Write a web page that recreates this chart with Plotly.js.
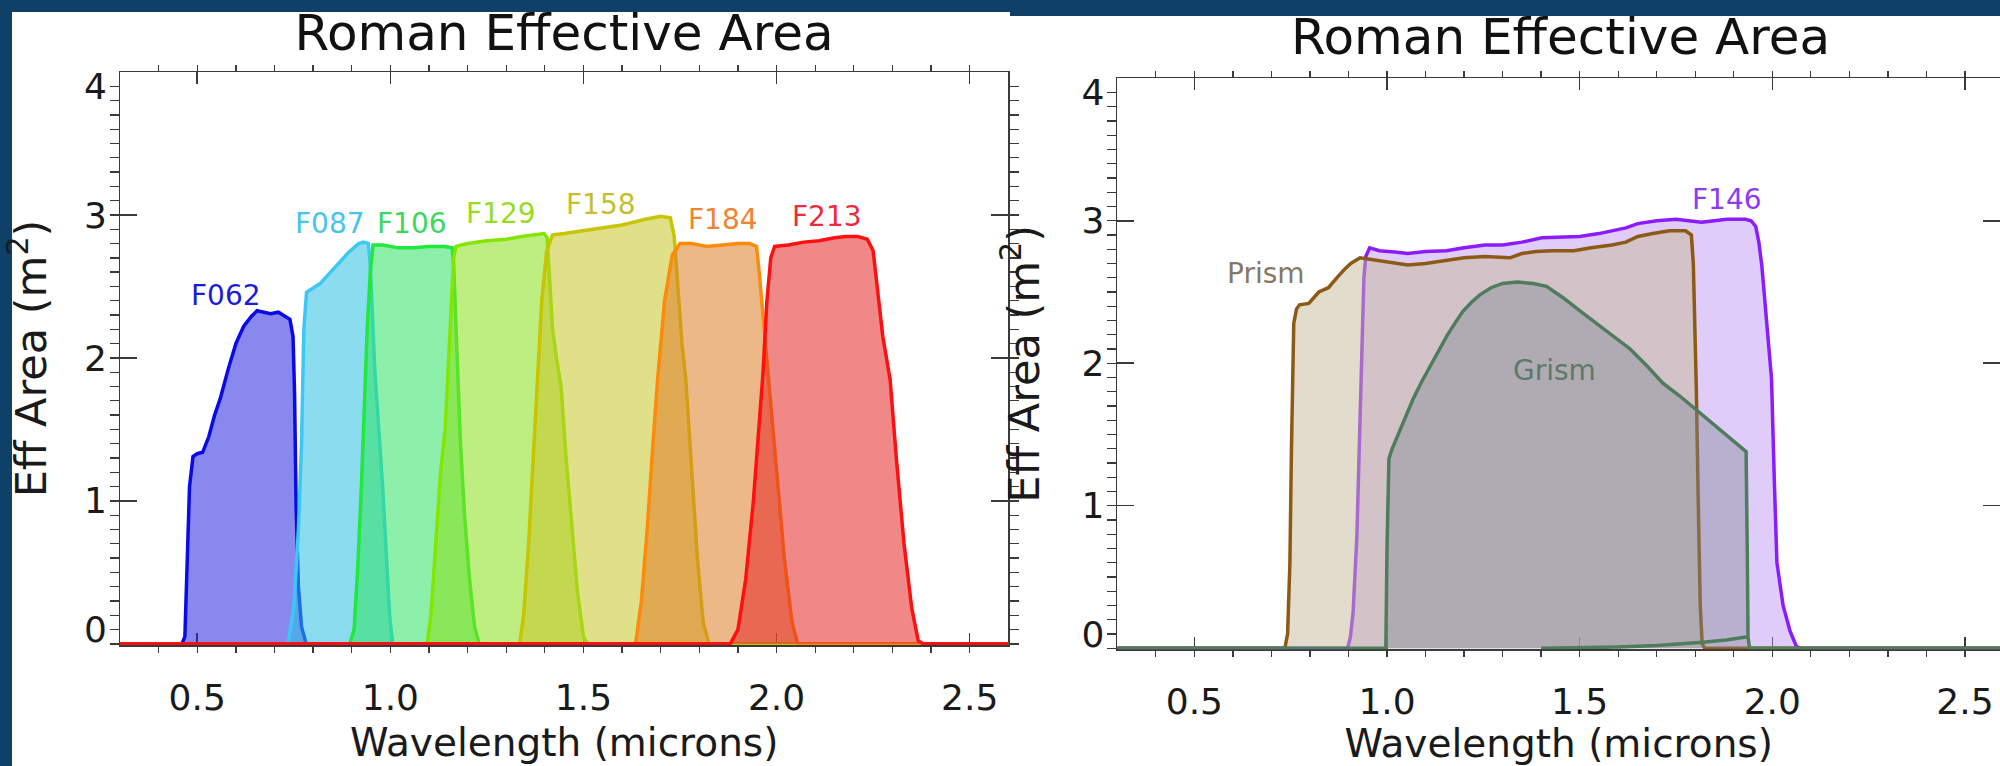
<!DOCTYPE html>
<html>
<head>
<meta charset="utf-8">
<script src="https://cdn.plot.ly/plotly-3.0.1.min.js"></script>
<style>
html,body{margin:0;padding:0;background:#0f4068;}
#chart{width:2000px;height:766px;}
</style>
</head>
<body>
<div id="chart"></div>
<script>
// ---------- Left panel: imaging filters (wavelength in microns, effective area in m^2) ----------
const F062_x = [0.30, 0.460, 0.468, 0.474, 0.480, 0.489, 0.500, 0.514, 0.530, 0.545, 0.560, 0.580, 0.600, 0.620, 0.640, 0.655, 0.670, 0.690, 0.710, 0.730, 0.740, 0.748, 0.752, 0.756, 0.762, 0.770, 0.782, 2.60];
const F062_y = [0, 0, 0.05, 0.60, 1.10, 1.31, 1.33, 1.34, 1.45, 1.60, 1.72, 1.92, 2.10, 2.22, 2.29, 2.33, 2.32, 2.31, 2.32, 2.29, 2.27, 2.15, 1.75, 0.95, 0.40, 0.12, 0, 0];

const F087_x = [0.30, 0.735, 0.750, 0.762, 0.770, 0.776, 0.783, 0.800, 0.818, 0.835, 0.853, 0.866, 0.879, 0.892, 0.905, 0.918, 0.930, 0.943, 0.948, 0.954, 0.960, 0.970, 0.980, 0.990, 0.998, 1.006, 2.60];
const F087_y = [0, 0, 0.25, 0.80, 1.40, 2.20, 2.46, 2.49, 2.52, 2.57, 2.62, 2.66, 2.70, 2.74, 2.77, 2.80, 2.81, 2.80, 2.65, 2.30, 1.90, 1.50, 1.10, 0.60, 0.20, 0, 0];

const F106_x = [0.30, 0.895, 0.906, 0.915, 0.925, 0.932, 0.940, 0.948, 0.955, 0.980, 1.020, 1.060, 1.100, 1.140, 1.160, 1.164, 1.168, 1.174, 1.181, 1.192, 1.205, 1.218, 1.230, 2.60];
const F106_y = [0, 0, 0.10, 0.50, 1.10, 1.60, 2.20, 2.60, 2.79, 2.79, 2.77, 2.77, 2.78, 2.78, 2.77, 2.65, 2.35, 1.90, 1.43, 0.90, 0.45, 0.12, 0, 0];

const F129_x = [0.30, 1.095, 1.105, 1.118, 1.130, 1.142, 1.150, 1.158, 1.164, 1.170, 1.200, 1.250, 1.300, 1.340, 1.370, 1.398, 1.406, 1.412, 1.420, 1.430, 1.442, 1.455, 1.470, 1.485, 1.500, 1.510, 2.60];
const F129_y = [0, 0, 0.20, 0.70, 1.20, 1.50, 1.90, 2.40, 2.70, 2.78, 2.80, 2.82, 2.83, 2.85, 2.86, 2.87, 2.84, 2.60, 2.20, 2.00, 1.80, 1.30, 0.80, 0.35, 0.05, 0, 0];

const F158_x = [0.30, 1.335, 1.345, 1.358, 1.370, 1.380, 1.392, 1.405, 1.420, 1.450, 1.500, 1.550, 1.600, 1.630, 1.660, 1.700, 1.725, 1.735, 1.745, 1.755, 1.765, 1.780, 1.795, 1.810, 1.825, 2.60];
const F158_y = [0, 0, 0.20, 0.70, 1.30, 1.85, 2.40, 2.75, 2.86, 2.87, 2.89, 2.91, 2.93, 2.95, 2.97, 2.99, 2.98, 2.85, 2.50, 2.10, 1.85, 1.20, 0.60, 0.15, 0, 0];

const F184_x = [0.30, 1.635, 1.650, 1.665, 1.680, 1.692, 1.710, 1.730, 1.750, 1.780, 1.820, 1.860, 1.900, 1.930, 1.948, 1.955, 1.965, 1.980, 2.000, 2.020, 2.040, 2.055, 2.60];
const F184_y = [0, 0, 0.30, 0.80, 1.40, 1.85, 2.40, 2.72, 2.80, 2.80, 2.78, 2.79, 2.80, 2.80, 2.78, 2.60, 2.30, 1.85, 1.20, 0.60, 0.15, 0, 0];

const F213_x = [0.30, 1.880, 1.900, 1.920, 1.940, 1.955, 1.965, 1.975, 1.985, 1.995, 2.030, 2.070, 2.110, 2.150, 2.180, 2.210, 2.235, 2.250, 2.260, 2.275, 2.294, 2.310, 2.330, 2.350, 2.367, 2.380, 2.60];
const F213_y = [0, 0, 0.10, 0.45, 1.00, 1.50, 1.90, 2.40, 2.70, 2.78, 2.79, 2.81, 2.82, 2.84, 2.85, 2.85, 2.83, 2.75, 2.50, 2.15, 1.85, 1.30, 0.70, 0.25, 0.02, 0, 0];

// ---------- Right panel: F146, Prism, Grism ----------
const F146_x = [0.30, 0.898, 0.905, 0.912, 0.922, 0.930, 0.936, 0.940, 0.945, 0.955, 0.980, 1.020, 1.054, 1.100, 1.154, 1.200, 1.254, 1.300, 1.350, 1.402, 1.450, 1.500, 1.550, 1.584, 1.620, 1.651, 1.700, 1.750, 1.790, 1.816, 1.850, 1.882, 1.930, 1.945, 1.957, 1.965, 1.973, 1.985, 1.998, 2.005, 2.012, 2.028, 2.046, 2.063, 2.075, 2.60];
const F146_y = [0, 0, 0.08, 0.25, 0.80, 1.50, 2.20, 2.60, 2.75, 2.81, 2.79, 2.78, 2.77, 2.785, 2.79, 2.81, 2.83, 2.83, 2.85, 2.88, 2.885, 2.89, 2.91, 2.93, 2.95, 2.98, 3.00, 3.01, 3.00, 2.99, 3.00, 3.01, 3.01, 3.00, 2.96, 2.85, 2.68, 2.30, 1.89, 1.20, 0.60, 0.30, 0.12, 0.01, 0, 0];

const Prism_x = [0.30, 0.735, 0.742, 0.748, 0.752, 0.755, 0.758, 0.765, 0.773, 0.797, 0.810, 0.823, 0.848, 0.860, 0.873, 0.890, 0.906, 0.930, 0.956, 1.000, 1.054, 1.100, 1.154, 1.200, 1.254, 1.319, 1.350, 1.386, 1.430, 1.485, 1.530, 1.584, 1.620, 1.651, 1.690, 1.733, 1.775, 1.790, 1.795, 1.800, 1.803, 1.808, 1.813, 1.818, 1.825, 2.60];
const Prism_y = [0, 0, 0.10, 0.60, 1.40, 2.00, 2.28, 2.38, 2.41, 2.42, 2.46, 2.50, 2.53, 2.57, 2.61, 2.66, 2.70, 2.74, 2.73, 2.71, 2.69, 2.70, 2.72, 2.74, 2.75, 2.74, 2.77, 2.785, 2.79, 2.79, 2.81, 2.83, 2.85, 2.89, 2.91, 2.93, 2.93, 2.90, 2.70, 2.20, 1.80, 1.00, 0.30, 0.03, 0, 0];

const Grism_x = [0.30, 0.997, 1.000, 1.005, 1.012, 1.030, 1.050, 1.068, 1.090, 1.112, 1.133, 1.155, 1.176, 1.197, 1.220, 1.241, 1.270, 1.300, 1.337, 1.380, 1.414, 1.457, 1.500, 1.544, 1.590, 1.631, 1.675, 1.716, 1.760, 1.800, 1.860, 1.924, 1.932, 1.935, 1.937, 1.941, 2.60];
const Grism_y = [0, 0, 0.70, 1.33, 1.39, 1.51, 1.63, 1.75, 1.87, 1.98, 2.09, 2.19, 2.28, 2.365, 2.43, 2.48, 2.53, 2.56, 2.57, 2.56, 2.54, 2.46, 2.37, 2.28, 2.19, 2.10, 1.98, 1.86, 1.77, 1.68, 1.54, 1.40, 1.38, 0.70, 0.08, 0, 0];

const GrismLow_x = [1.40, 1.50, 1.60, 1.70, 1.76, 1.82, 1.88, 1.937];
const GrismLow_y = [0, 0.003, 0.008, 0.018, 0.028, 0.042, 0.058, 0.08];

// ---------- Labels ----------
const leftNames  = ['F062', 'F087', 'F106', 'F129', 'F158', 'F184', 'F213'];
const leftLabelX = [0.575, 0.844, 1.057, 1.286, 1.546, 1.862, 2.130];
const leftLabelY = [2.44, 2.94, 2.94, 3.01, 3.07, 2.97, 2.99];
const rightNames  = ['Prism', 'F146', 'Grism'];
const rightLabelX = [0.686, 1.883, 1.436];
const rightLabelY = [2.63, 3.15, 1.95];

const xTickVals = [0.5, 1.0, 1.5, 2.0, 2.5];
const yTickVals = [0.1, 1, 2, 3, 3.9];
const yTickText = ['0', '1', '2', '3', '4'];

// ---------- Styling ----------
const FONT = 'DejaVu Sans, Liberation Sans, sans-serif';
const leftX = [F062_x, F087_x, F106_x, F129_x, F158_x, F184_x, F213_x];
const leftY = [F062_y, F087_y, F106_y, F129_y, F158_y, F184_y, F213_y];
const leftLine = ['#0a0ae6', '#3cc8f5', '#22e83c', '#84e600', '#c8c400', '#ff8a0a', '#ff1010'];
const leftFill = ['rgba(38,38,224,0.55)', 'rgba(46,191,228,0.55)', 'rgba(46,228,100,0.55)', 'rgba(137,224,24,0.55)', 'rgba(199,199,39,0.55)', 'rgba(222,126,39,0.55)', 'rgba(228,39,39,0.55)'];
const leftText = ['#1c1cd8', '#46c4ee', '#3cd85c', '#98dc22', '#c4be30', '#f08432', '#ec2c3c'];

const traces = [];
for (let i = 0; i < leftNames.length; i++) {
  // the last filter is attached to the label axis (same range, overlaid) so that axis is drawn
  const ya = (i === leftNames.length - 1) ? 'y3' : 'y';
  traces.push({type: 'scatter', mode: 'lines', name: leftNames[i], x: leftX[i], y: leftY[i],
    xaxis: 'x', yaxis: ya, line: {color: leftLine[i], width: 3.5}, fill: 'tozeroy', fillcolor: leftFill[i]});
}
traces.push({type: 'scatter', mode: 'lines', name: 'F146', x: F146_x, y: F146_y, xaxis: 'x2', yaxis: 'y2',
  line: {color: '#8a1cff', width: 3.5}, fill: 'tozeroy', fillcolor: 'rgba(186,142,239,0.45)'});
traces.push({type: 'scatter', mode: 'lines', name: 'Prism', x: Prism_x, y: Prism_y, xaxis: 'x2', yaxis: 'y2',
  line: {color: '#8c5a14', width: 3.5}, fill: 'tozeroy', fillcolor: 'rgba(197,185,153,0.5)'});
traces.push({type: 'scatter', mode: 'lines', name: 'Grism', x: Grism_x, y: Grism_y, xaxis: 'x2', yaxis: 'y2',
  line: {color: '#4e7c5c', width: 3.5}, fill: 'tozeroy', fillcolor: 'rgba(125,134,145,0.4)'});
traces.push({type: 'scatter', mode: 'lines', name: 'Grism (low)', x: GrismLow_x, y: GrismLow_y, xaxis: 'x2', yaxis: 'y4',
  line: {color: '#4e7c5c', width: 3.5}});

const AX = '#3a3a3a';
const tickFont = {family: FONT, size: 36, color: '#1a1a1a'};
function xAxis(domain, range, anchor) {
  return {domain: domain, range: range, anchor: anchor, showline: true, linecolor: AX, linewidth: 1.5,
    mirror: 'ticks', ticks: 'inside', ticklen: 12, tickwidth: 1.5, tickcolor: AX,
    tickmode: 'array', tickvals: xTickVals, tickformat: '.1f', tickfont: tickFont, ticklabelstandoff: 20,
    showgrid: false, zeroline: false, layer: 'below traces',
    minor: {dtick: 0.1, tick0: 0, ticklen: 6, tickwidth: 1.3, tickcolor: AX, showgrid: false},
    title: {text: 'Wavelength (microns)', font: {family: FONT, size: 39, color: '#1a1a1a'}, standoff: 12}};
}
function yAxis(domain, anchor) {
  return {domain: domain, range: [-0.008, 4.0], anchor: anchor, showline: true, linecolor: AX, linewidth: 1.5,
    mirror: 'ticks', ticks: 'inside', ticklen: 17, tickwidth: 1.5, tickcolor: AX,
    tickmode: 'linear', tick0: 0, dtick: 1, showticklabels: false,
    showgrid: false, zeroline: false, layer: 'below traces',
    minor: {dtick: 0.1, tick0: 0, ticklen: 9, tickwidth: 1.3, tickcolor: AX, showgrid: false}};
}
function yLabels(over, anchor) {
  return {overlaying: over, anchor: anchor, side: 'left', range: [-0.008, 4.0],
    tickmode: 'array', tickvals: yTickVals, ticktext: yTickText, ticks: '', tickfont: tickFont,
    ticklabelstandoff: 12, showline: false, showgrid: false, zeroline: false,
    title: {text: 'Eff Area (m<sup>2</sup>)', font: {family: FONT, size: 43, color: '#1a1a1a'}, standoff: 28}};
}

const annotations = [];
for (let i = 0; i < leftNames.length; i++) {
  annotations.push({xref: 'x', yref: 'y', x: leftLabelX[i], y: leftLabelY[i], text: leftNames[i], showarrow: false,
    xanchor: 'center', yanchor: 'middle', font: {family: FONT, size: 28, color: leftText[i]}});
}
const rightText = ['#877862', '#8a3cf5', '#5c7a68'];
for (let i = 0; i < rightNames.length; i++) {
  annotations.push({xref: 'x2', yref: 'y2', x: rightLabelX[i], y: rightLabelY[i], text: rightNames[i], showarrow: false,
    xanchor: 'center', yanchor: 'middle', font: {family: FONT, size: 28, color: rightText[i]}});
}
annotations.push({xref: 'paper', yref: 'paper', x: 1560 / 2000, y: 1 - 37.5 / 766, xanchor: 'center', yanchor: 'middle',
  text: 'Roman Effective Area', showarrow: false, font: {family: FONT, size: 50, color: '#111111'}});

const layout = {
  width: 2000, height: 766,
  margin: {l: 0, r: 0, t: 0, b: 0},
  paper_bgcolor: '#0f4068', plot_bgcolor: 'rgba(0,0,0,0)',
  showlegend: false,
  title: {text: 'Roman Effective Area', x: 564 / 2000, xref: 'paper', xanchor: 'center',
    y: 1 - 32.5 / 766, yref: 'paper', yanchor: 'middle', font: {family: FONT, size: 50, color: '#111111'}},
  xaxis: xAxis([120 / 2000, 1008.3 / 2000], [0.3, 2.6], 'y'),
  yaxis: yAxis([121 / 766, 694 / 766], 'x'),
  yaxis3: yLabels('y', 'x'),
  xaxis2: xAxis([1117.3 / 2000, 1], [0.3, 2.591], 'y2'),
  yaxis2: yAxis([116.7 / 766, 687.7 / 766], 'x2'),
  yaxis4: yLabels('y2', 'x2'),
  shapes: [
    {type: 'rect', xref: 'paper', yref: 'paper', x0: 12 / 2000, x1: 1010 / 2000, y0: 0, y1: 1 - 12 / 766,
      fillcolor: '#ffffff', line: {width: 0}, layer: 'below'},
    {type: 'rect', xref: 'paper', yref: 'paper', x0: 1010 / 2000, x1: 1, y0: 0, y1: 1 - 16 / 766,
      fillcolor: '#ffffff', line: {width: 0}, layer: 'below'}
  ],
  annotations: annotations
};

Plotly.newPlot('chart', traces, layout, {displayModeBar: false, staticPlot: true});
</script>
</body>
</html>
